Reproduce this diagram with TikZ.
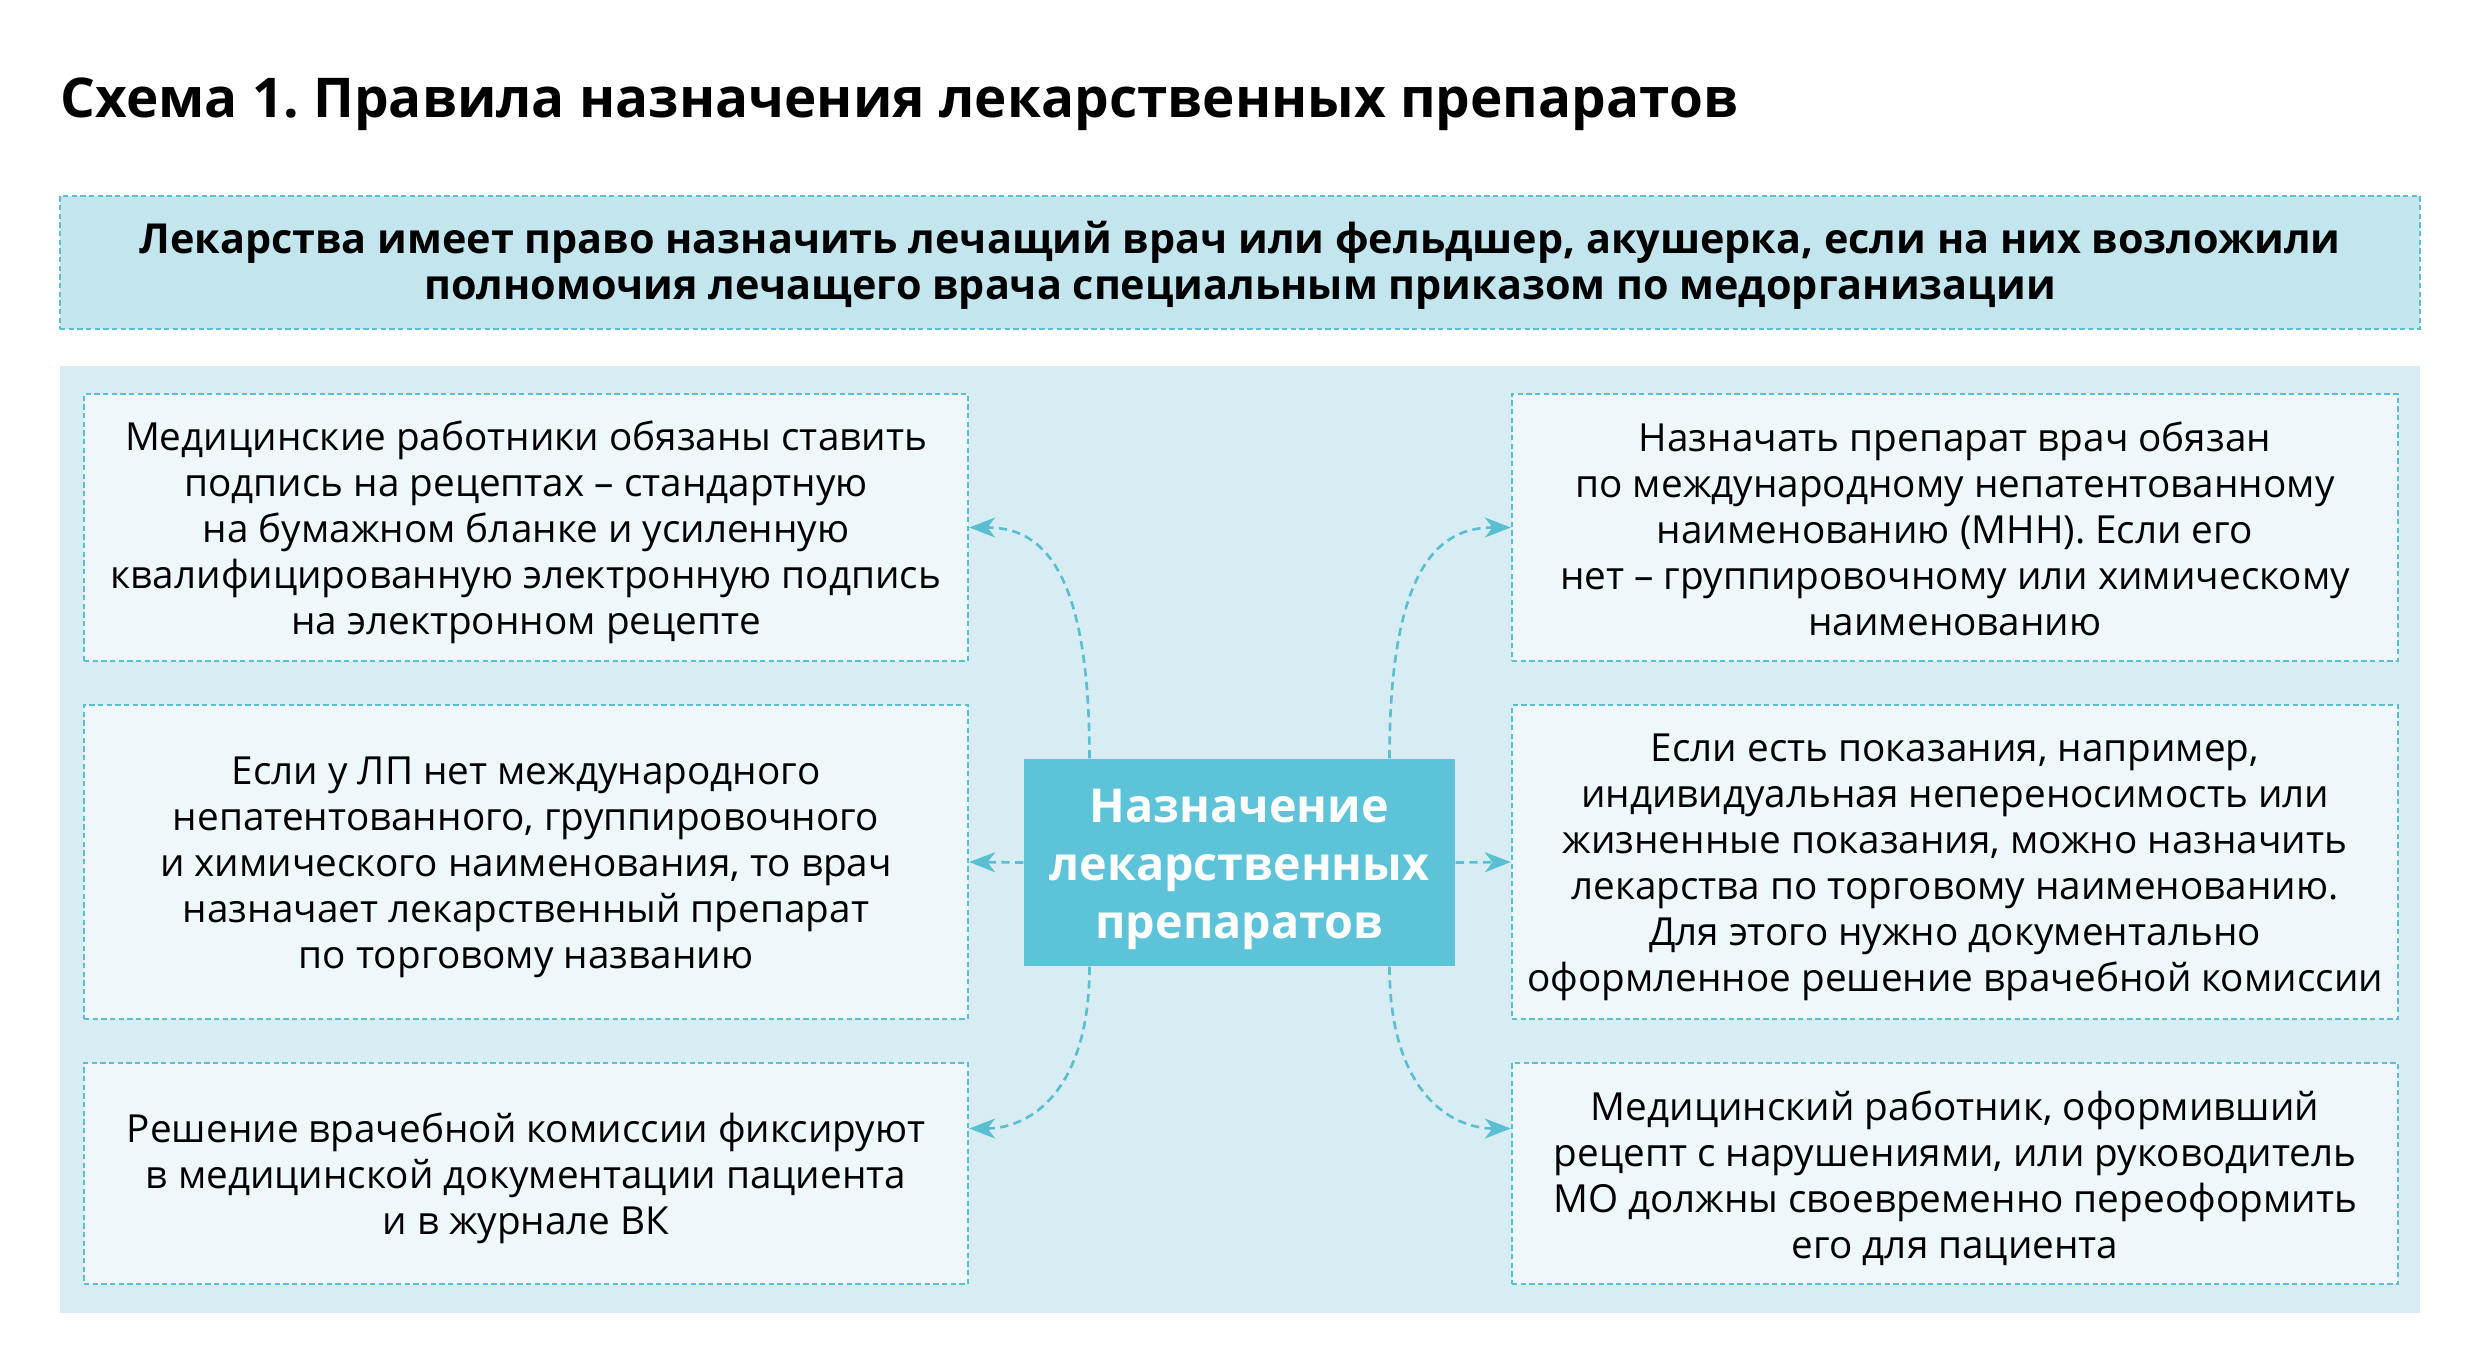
\documentclass[tikz,border=0pt]{standalone}
\usepackage{fontspec}
\setmainfont{Open Sans}
\usetikzlibrary{arrows.meta,calc}
\frenchspacing
\definecolor{panelbg}{HTML}{D8EDF3}
\definecolor{sidebg}{HTML}{EEF7FA}
\definecolor{topbg}{HTML}{C3E6EE}
\definecolor{centerbg}{HTML}{5CC3D8}
\definecolor{dashc}{HTML}{5BBFD3}
% struts that fix the first-line height and last-line depth
\newcommand\stt{\rule{0pt}{11.6pt}}
\newcommand\stb{\rule[-2.2pt]{0pt}{2.2pt}}
\newcommand\ctt{\rule{0pt}{14.15pt}}
\newcommand\ctb{\rule[-3.15pt]{0pt}{3.15pt}}
\tikzset{
  sidebox/.style={draw=dashc, line width=0.7pt, dash pattern=on 1.6pt off 1pt, fill=sidebg,
    align=center, inner sep=0pt, font=\fontsize{11.6}{13.8}\selectfont, text=black},
  topbox/.style={draw=dashc, line width=0.7pt, dash pattern=on 1.6pt off 1pt, fill=topbg,
    align=center, inner sep=0pt, font=\bfseries\fontsize{12.4}{13.8}\selectfont, text=black},
  centerbox/.style={fill=centerbg, draw=none, align=center, inner sep=0pt,
    font=\bfseries\fontsize{14}{17.3}\selectfont, text=white},
  conn/.style={draw=dashc, line width=0.8pt, dash pattern=on 2.5pt off 1.6pt,
    -{Stealth[length=7.8pt,width=6pt,inset=2.3pt]}},
}
\begin{document}
\begin{tikzpicture}[x=0.3pt,y=-0.3pt]
\useasboundingbox (0,0) rectangle (2480,1371);
\fill[white] (0,0) rectangle (2480,1371);
% title
\node[anchor=base west, inner sep=0pt, font=\bfseries\fontsize{16.45}{20}\selectfont] (title) at (60,117)
  {Схема 1. Правила назначения лекарственных препаратов};
% top box
\node[topbox, minimum width=708pt, minimum height=39.9pt] (top) at (1240,262.5)
  {\stt Лекарства имеет право назначить лечащий врач или фельдшер, акушерка, если на них возложили\\
   полномочия лечащего врача специальным приказом по медорганизации\stb};
% panel
\node[fill=panelbg, draw=none, minimum width=708pt, minimum height=284.1pt, inner sep=0pt] (panel) at (1240,839.5) {};
% left boxes
\node[sidebox, minimum width=265.2pt, minimum height=80.1pt] (L1) at (526,527.5)
  {\stt Медицинские работники обязаны ставить\\
   подпись на рецептах – стандартную\\
   на бумажном бланке и усиленную\\
   квалифицированную электронную подпись\\
   на электронном рецепте\stb};
\node[sidebox, minimum width=265.2pt, minimum height=94.2pt] (L2) at (526,862)
  {\stt Если у ЛП нет международного\\
   непатентованного, группировочного\\
   и химического наименования, то врач\\
   назначает лекарственный препарат\\
   по торговому названию\stb};
\node[sidebox, minimum width=265.2pt, minimum height=66.3pt] (L3) at (526,1173.5)
  {\stt Решение врачебной комиссии фиксируют\\
   в медицинской документации пациента\\
   и в журнале ВК\stb};
% right boxes
\node[sidebox, minimum width=265.8pt, minimum height=80.1pt] (R1) at (1955,527.5)
  {\stt Назначать препарат врач обязан\\
   по международному непатентованному\\
   наименованию (МНН). Если его\\
   нет – группировочному или химическому\\
   наименованию\stb};
\node[sidebox, minimum width=265.8pt, minimum height=94.2pt] (R2) at (1955,862)
  {\stt Если есть показания, например,\\
   индивидуальная непереносимость или\\
   жизненные показания, можно назначить\\
   лекарства по торговому наименованию.\\
   Для этого нужно документально\\
   оформленное решение врачебной комиссии\stb};
\node[sidebox, minimum width=265.8pt, minimum height=66.3pt] (R3) at (1955,1173.5)
  {\stt Медицинский работник, оформивший\\
   рецепт с нарушениями, или руководитель\\
   МО должны своевременно переоформить\\
   его для пациента\stb};
% center
\node[centerbox, minimum width=129.3pt, minimum height=62.1pt] (C) at (1239.5,862.5)
  {\ctt Назначение\\лекарственных\\препаратов\ctb};
% connectors
\coordinate (L3in) at ($(L3.east)+(0,-45)$);
\coordinate (R3in) at ($(R3.west)+(0,-45)$);
\draw[conn] ($(C.north)+(-150,0)$) .. controls +(0,-200) and +(67,0) .. (L1.east);
\draw[conn] ($(C.north)+(150,0)$) .. controls +(0,-200) and +(-67,0) .. (R1.west);
\draw[conn] (C.west) -- (L2.east);
\draw[conn] (C.east) -- (R2.west);
\draw[conn] ($(C.south)+(-150,0)$) .. controls +(0,123) and +(62,0) .. (L3in);
\draw[conn] ($(C.south)+(150,0)$) .. controls +(0,123) and +(-62,0) .. (R3in);
\end{tikzpicture}
\end{document}
